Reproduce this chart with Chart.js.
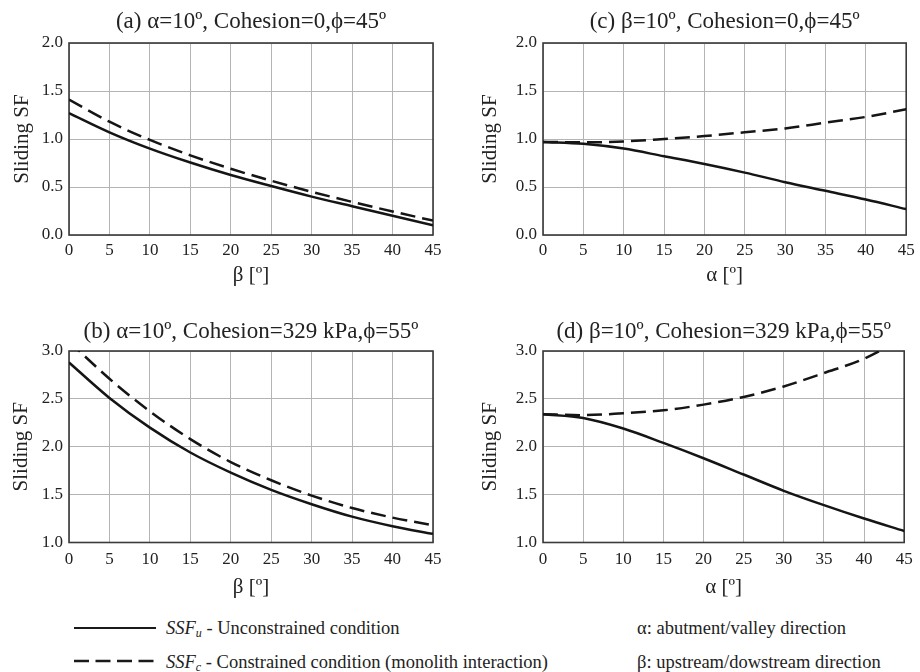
<!DOCTYPE html>
<html><head><meta charset="utf-8">
<script src="https://cdn.jsdelivr.net/npm/chart.js@4/dist/chart.umd.min.js"></script>
<style>
html,body{margin:0;padding:0;background:#fff;}
body{width:920px;height:672px;position:relative;overflow:hidden;font-family:"Liberation Serif","Times New Roman",serif;color:#222;}
canvas{position:absolute;}
.leg{position:absolute;font-size:18.5px;line-height:20px;height:20px;white-space:nowrap;color:#222;}
.leg sub{font-size:12px;vertical-align:-3px;line-height:0;}
</style></head><body>
<canvas id="ca" width="460" height="290" style="left:0;top:0"></canvas>
<canvas id="cc" width="460" height="290" style="left:460px;top:0"></canvas>
<canvas id="cb" width="460" height="310" style="left:0;top:290px"></canvas>
<canvas id="cd" width="460" height="310" style="left:460px;top:290px"></canvas>

<div style="position:absolute;left:74px;top:627px;width:82px;height:0;border-top:2.5px solid #1a1a1a"></div>
<svg style="position:absolute;left:74px;top:656px" width="82" height="10"><line x1="0" y1="5" x2="82" y2="5" stroke="#1a1a1a" stroke-width="2.5" stroke-dasharray="15 6.5"/></svg>
<div class="leg" style="left:166px;top:618px"><i>SSF<sub>u</sub></i> - Unconstrained condition</div>
<div class="leg" style="left:166px;top:652px"><i>SSF<sub>c</sub></i> - Constrained condition (monolith interaction)</div>
<div class="leg" style="left:637px;top:618px">α: abutment/valley direction</div>
<div class="leg" style="left:637px;top:652px">β: upstream/dowstream direction</div>

<script>
// ---- data ----
const xValues = [0, 5, 10, 15, 20, 25, 30, 35, 40, 45];
const aSolid  = [1.27, 1.07, 0.90, 0.755, 0.625, 0.51, 0.40, 0.30, 0.20, 0.10];
const aDashed = [1.41, 1.18, 0.99, 0.83, 0.69, 0.565, 0.45, 0.345, 0.245, 0.15];
const bSolid  = [2.88, 2.51, 2.20, 1.94, 1.73, 1.55, 1.40, 1.27, 1.17, 1.09];
const bDashed = [3.10, 2.71, 2.37, 2.08, 1.84, 1.65, 1.49, 1.36, 1.26, 1.18];
const cSolid  = [0.97, 0.95, 0.90, 0.82, 0.74, 0.65, 0.55, 0.46, 0.37, 0.27];
const cDashed = [0.97, 0.965, 0.975, 1.00, 1.03, 1.07, 1.11, 1.17, 1.23, 1.31];
const dSolid  = [2.34, 2.30, 2.19, 2.04, 1.88, 1.71, 1.54, 1.39, 1.25, 1.12];
const dDashed = [2.34, 2.33, 2.35, 2.38, 2.44, 2.52, 2.63, 2.77, 2.92, 3.14];
const titleA = '(a) α=10º, Cohesion=0,ϕ=45º';
const titleB = '(b) α=10º, Cohesion=329 kPa,ϕ=55º';
const titleC = '(c) β=10º, Cohesion=0,ϕ=45º';
const titleD = '(d) β=10º, Cohesion=329 kPa,ϕ=55º';
const xTitleBeta = 'β [º]';
const xTitleAlpha = 'α [º]';
const yTitle = 'Sliding SF';
const solidLabel = 'SSFu - Unconstrained condition';
const dashedLabel = 'SSFc - Constrained condition (monolith interaction)';

// ---- layout (page pixels) ----
const FONT = '"Liberation Serif", "Times New Roman", serif';
const panels = [
  {id:'ca', L:0,   T:0,   W:460, H:290, area:{l:69,  t:43,  r:433, b:235},   titleCY:22,  yTitleCX:22,  tickGap:15.5, xTitleFromBottom:15,
   title:titleA, xTitle:xTitleBeta,  yMin:0, yMax:2, solid:aSolid, dashed:aDashed},
  {id:'cc', L:460, T:0,   W:460, H:290, area:{l:543, t:43,  r:907, b:235},   titleCY:22,  yTitleCX:490, tickGap:15.5, xTitleFromBottom:15,
   title:titleC, xTitle:xTitleAlpha, yMin:0, yMax:2, solid:cSolid, dashed:cDashed},
  {id:'cb', L:0,   T:290, W:460, H:310, area:{l:69,  t:351, r:433, b:542.5}, titleCY:332, yTitleCX:21,  tickGap:17.5, xTitleFromBottom:13,
   title:titleB, xTitle:xTitleBeta,  yMin:1, yMax:3, solid:bSolid, dashed:bDashed},
  {id:'cd', L:460, T:290, W:460, H:310, area:{l:543, t:351, r:907, b:542.5}, titleCY:332, yTitleCX:490, tickGap:17.5, xTitleFromBottom:13,
   title:titleD, xTitle:xTitleAlpha, yMin:1, yMax:3, solid:dSolid, dashed:dDashed}
];

const boxPlugin = {
  id: 'box',
  beforeDatasetsDraw(chart) {
    const {ctx, chartArea: a} = chart;
    ctx.save();
    ctx.strokeStyle = '#3a3a3a';
    ctx.lineWidth = 1.6;
    ctx.strokeRect(a.left, a.top, a.right - a.left, a.bottom - a.top);
    ctx.restore();
  }
};

const TITLE_SIZE = 23, TITLE_LH = TITLE_SIZE * 1.2;
const AX_SIZE = 21, AX_LH = AX_SIZE * 1.2;
const TICK_SIZE = 17, TICK_LH = TICK_SIZE * 1.2;

panels.forEach(p => {
  const padTop = p.titleCY - p.T - TITLE_LH / 2;
  const padBottom = (p.area.t - p.T) - padTop - TITLE_LH;
  const yWidth = p.area.l - p.L;
  const xHeight = p.T + p.H - p.area.b;
  new Chart(document.getElementById(p.id), {
    type: 'line',
    data: {
      datasets: [
        {label: solidLabel, data: xValues.map((x, i) => ({x, y: p.solid[i]})),
         borderColor: '#151515', borderWidth: 2.5, pointRadius: 0, fill: false,
         cubicInterpolationMode: 'monotone', clip: 0},
        {label: dashedLabel, data: xValues.map((x, i) => ({x, y: p.dashed[i]})),
         borderColor: '#151515', borderWidth: 2.5, borderDash: [15, 7], pointRadius: 0, fill: false,
         cubicInterpolationMode: 'monotone', clip: 0}
      ]
    },
    options: {
      responsive: false,
      animation: false,
      events: [],
      layout: {padding: {left: 0, top: 0, bottom: 0, right: p.L + p.W - p.area.r}},
      plugins: {
        legend: {display: false},
        tooltip: {enabled: false},
        title: {
          display: true, text: p.title, fullSize: false, color: '#222',
          font: {family: FONT, size: TITLE_SIZE, weight: 'normal', lineHeight: 1.2},
          padding: {top: padTop, bottom: padBottom}
        }
      },
      scales: {
        x: {
          type: 'linear', min: 0, max: 45,
          ticks: {stepSize: 5, color: '#222', padding: p.tickGap - TICK_LH / 2, maxRotation: 0,
                  font: {family: FONT, size: TICK_SIZE}},
          grid: {color: '#b4b4b4', lineWidth: 1, drawTicks: false},
          border: {display: false},
          title: {display: true, text: p.xTitle, color: '#222',
                  font: {family: FONT, size: AX_SIZE, lineHeight: 1.2},
                  padding: {top: 0, bottom: p.xTitleFromBottom - AX_LH / 2}},
          afterFit(s) { s.height = xHeight; }
        },
        y: {
          min: p.yMin, max: p.yMax,
          ticks: {stepSize: 0.5, color: '#222', padding: 6,
                  font: {family: FONT, size: TICK_SIZE},
                  callback: v => Number(v).toFixed(1)},
          grid: {color: '#b4b4b4', lineWidth: 1, drawTicks: false},
          border: {display: false},
          title: {display: true, text: yTitle, color: '#222',
                  font: {family: FONT, size: AX_SIZE, lineHeight: 1.2},
                  padding: {top: (p.yTitleCX - p.L) - AX_LH / 2, bottom: 0}},
          afterFit(s) { s.width = yWidth; }
        }
      }
    },
    plugins: [boxPlugin]
  });
});
</script>
</body></html>
